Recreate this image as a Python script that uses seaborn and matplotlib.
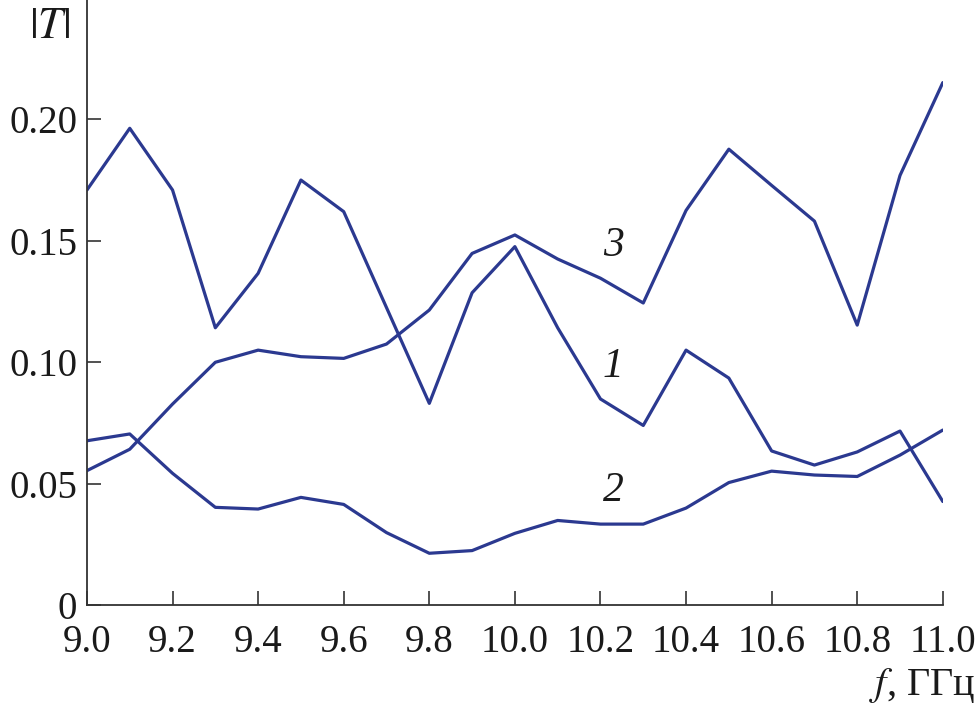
import matplotlib

matplotlib.use("Agg", force=True)
import matplotlib.pyplot as plt
import numpy as np
import pandas as pd
import seaborn as sns

freq = np.round(np.arange(9.0, 11.01, 0.1), 1)

curve_1 = [0.1708, 0.1962, 0.1708, 0.1141, 0.1365, 0.1749, 0.1619, 0.1224, 0.0830, 0.1285, 0.1475,
           0.1141, 0.0848, 0.0739, 0.1049, 0.0934, 0.0634, 0.0576, 0.0630, 0.0716, 0.0426]
curve_2 = [0.0676, 0.0704, 0.0542, 0.0402, 0.0395, 0.0443, 0.0414, 0.0298, 0.0213, 0.0224, 0.0295,
           0.0348, 0.0333, 0.0333, 0.0399, 0.0504, 0.0551, 0.0535, 0.0529, 0.0617, 0.0720]
curve_3 = [0.0553, 0.0641, 0.0827, 0.0999, 0.1049, 0.1022, 0.1015, 0.1074, 0.1214, 0.1447, 0.1523,
           0.1424, 0.1345, 0.1243, 0.1624, 0.1876, 0.1727, 0.1580, 0.1152, 0.1768, 0.2150]

curve_labels = ["1", "2", "3"]
label_pos = [(10.23, 0.098), (10.23, 0.047), (10.23, 0.148)]

x_ticks = np.round(np.arange(9.0, 11.01, 0.2), 1)
y_ticks = [0, 0.05, 0.10, 0.15, 0.20]
y_tick_labels = ["0", "0.05", "0.10", "0.15", "0.20"]

line_color = "#2B3990"

df = pd.DataFrame(
    {
        "f": np.tile(freq, 3),
        "T": np.concatenate([curve_1, curve_2, curve_3]),
        "curve": np.repeat(curve_labels, len(freq)),
    }
)

sns.set_theme(style="ticks")
plt.rcParams["font.family"] = ["Liberation Serif", "DejaVu Serif"]
plt.rcParams["mathtext.fontset"] = "stix"

fig = plt.figure(figsize=(9.77, 7.16), dpi=100)
ax = fig.add_axes([0.089, 0.155, 0.876, 0.845])

sns.lineplot(
    data=df, x="f", y="T", units="curve", estimator=None,
    color=line_color, linewidth=2.3, ax=ax, legend=False,
)

for text, (x, y) in zip(curve_labels, label_pos):
    ax.text(x, y, text, fontsize=30, style="italic", ha="center", va="center", color="#1a1a1a")

ax.set_xlim(9.0, 11.0)
ax.set_ylim(0, 0.249)
ax.set_xticks(x_ticks)
ax.set_xticklabels([f"{v:.1f}" for v in x_ticks])
ax.set_yticks(y_ticks)
ax.set_yticklabels(y_tick_labels)
ax.tick_params(direction="in", length=10, width=1.2, labelsize=28, colors="#333333",
               labelcolor="#1a1a1a", pad=7)
ax.tick_params(axis="x", pad=14)
sns.despine(ax=ax)
for side in ["left", "bottom"]:
    ax.spines[side].set_linewidth(1.3)
    ax.spines[side].set_color("#333333")
ax.set_xlabel("")
ax.set_ylabel("")

ax.text(-0.043, 0.955, "$|T|$", transform=ax.transAxes, fontsize=32, ha="center", va="center",
        color="#1a1a1a")
fig.text(0.998, 0.042, "$f$, ГГц", fontsize=29, ha="right", va="center", color="#1a1a1a")

fig.savefig("out.png", dpi=100)
